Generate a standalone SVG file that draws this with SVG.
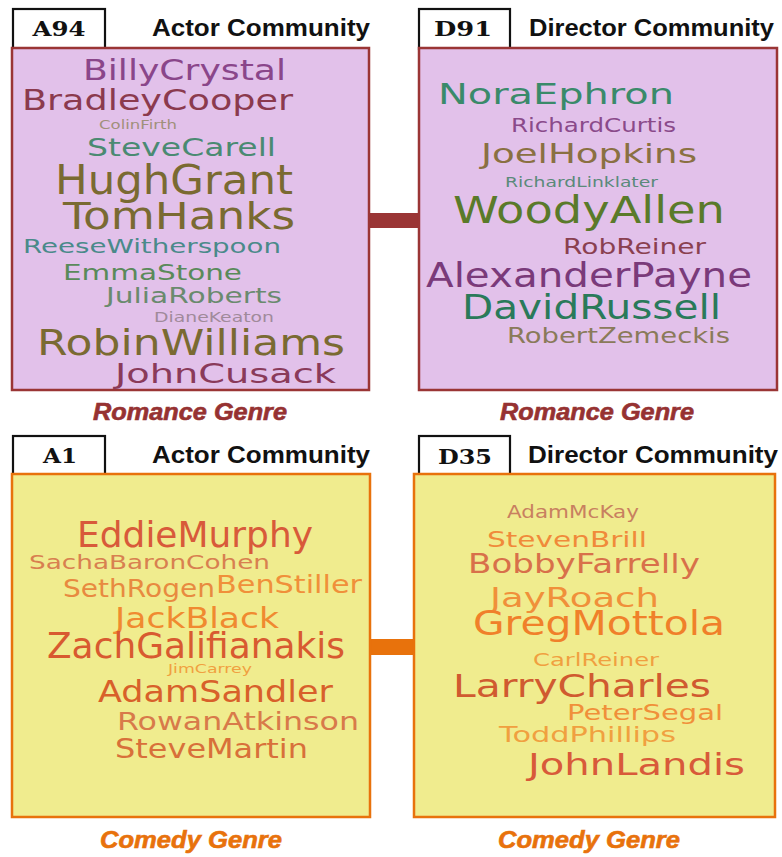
<svg xmlns="http://www.w3.org/2000/svg" width="782" height="857" viewBox="0 0 782 857">
  <style>
    .tab { fill: #ffffff; stroke: #111111; stroke-width: 2.2; }
    .tabtxt { font-family: "DejaVu Serif", "Liberation Serif", serif; font-weight: bold; font-size: 21px; fill: #111111; text-anchor: middle; }
    .head { font-family: "Liberation Sans", Arial, sans-serif; font-weight: bold; font-size: 23px; fill: #111111; }
    .rom { fill: #e2c1ea; stroke: #9a3535; stroke-width: 2.5; }
    .com { fill: #f0ec8e; stroke: #e8720c; stroke-width: 2.5; }
    .w { font-family: "DejaVu Sans", "Liberation Sans", sans-serif; }
    .genre { font-family: "Liberation Sans", Arial, sans-serif; font-weight: bold; font-style: italic; font-size: 23px; text-anchor: middle; stroke-width: 0.6; }
    .rg { fill: #963232; stroke: #963232; }
    .cg { fill: #e8720c; stroke: #e8720c; }
  </style>

  <!-- connectors between paired communities -->
  <g id="connectors">
    <rect x="368" y="213" width="52" height="15" fill="#9a3535"/>
    <rect x="369" y="639" width="46" height="16" fill="#e8720c"/>
  </g>

  <!-- Actor community A94 (romance) -->
  <g id="A94">
    <rect class="tab" x="13" y="9" width="92" height="40"/>
    <text class="tabtxt" x="59" y="36" textLength="53" lengthAdjust="spacingAndGlyphs">A94</text>
    <text class="head" x="152" y="36" textLength="218" lengthAdjust="spacingAndGlyphs">Actor Community</text>
    <rect class="rom" x="12" y="48" width="357" height="342"/>
    <g class="w">
      <text x="83" y="80" font-size="29" fill="#8a468a" textLength="203" lengthAdjust="spacingAndGlyphs">BillyCrystal</text>
      <text x="22" y="110" font-size="29" fill="#8b3a4e" textLength="271" lengthAdjust="spacingAndGlyphs">BradleyCooper</text>
      <text x="99" y="129" font-size="11.5" fill="#a0907a" textLength="78" lengthAdjust="spacingAndGlyphs">ColinFirth</text>
      <text x="87" y="156" font-size="25" fill="#4a8a72" textLength="189" lengthAdjust="spacingAndGlyphs">SteveCarell</text>
      <text x="55" y="194" font-size="40" fill="#7a6a32" textLength="238" lengthAdjust="spacingAndGlyphs">HughGrant</text>
      <text x="63" y="229" font-size="38" fill="#7a6a32" textLength="232" lengthAdjust="spacingAndGlyphs">TomHanks</text>
      <text x="23" y="253" font-size="19" fill="#4a8a8a" textLength="258" lengthAdjust="spacingAndGlyphs">ReeseWitherspoon</text>
      <text x="63" y="280" font-size="21" fill="#5a8a5a" textLength="179" lengthAdjust="spacingAndGlyphs">EmmaStone</text>
      <text x="106" y="303" font-size="21" fill="#6a8a6e" textLength="176" lengthAdjust="spacingAndGlyphs">JuliaRoberts</text>
      <text x="154" y="322" font-size="14" fill="#a08a9a" textLength="120" lengthAdjust="spacingAndGlyphs">DianeKeaton</text>
      <text x="37" y="355" font-size="36" fill="#7a6a32" textLength="308" lengthAdjust="spacingAndGlyphs">RobinWilliams</text>
      <text x="115" y="383" font-size="27" fill="#8a3a5a" textLength="221" lengthAdjust="spacingAndGlyphs">JohnCusack</text>
    </g>
    <text class="genre rg" x="190" y="420" textLength="194" lengthAdjust="spacingAndGlyphs">Romance Genre</text>
  </g>

  <!-- Director community D91 (romance) -->
  <g id="D91">
    <rect class="tab" x="419" y="9" width="91" height="40"/>
    <text class="tabtxt" x="463" y="36" textLength="58" lengthAdjust="spacingAndGlyphs">D91</text>
    <text class="head" x="529" y="36" textLength="245" lengthAdjust="spacingAndGlyphs">Director Community</text>
    <rect class="rom" x="419" y="48" width="358" height="342"/>
    <g class="w">
      <text x="438" y="104" font-size="29" fill="#3a8a6a" textLength="236" lengthAdjust="spacingAndGlyphs">NoraEphron</text>
      <text x="511" y="132" font-size="19" fill="#8a4a8a" textLength="165" lengthAdjust="spacingAndGlyphs">RichardCurtis</text>
      <text x="481" y="163" font-size="27" fill="#8a7042" textLength="216" lengthAdjust="spacingAndGlyphs">JoelHopkins</text>
      <text x="505" y="187" font-size="13.5" fill="#5a8a7a" textLength="153" lengthAdjust="spacingAndGlyphs">RichardLinklater</text>
      <text x="453" y="223" font-size="37" fill="#5a7a2a" textLength="272" lengthAdjust="spacingAndGlyphs">WoodyAllen</text>
      <text x="563" y="254" font-size="22" fill="#8a4050" textLength="143" lengthAdjust="spacingAndGlyphs">RobReiner</text>
      <text x="426" y="287" font-size="33" fill="#7a3a7a" textLength="326" lengthAdjust="spacingAndGlyphs">AlexanderPayne</text>
      <text x="462" y="319" font-size="34" fill="#2a7a5a" textLength="259" lengthAdjust="spacingAndGlyphs">DavidRussell</text>
      <text x="507" y="343" font-size="22" fill="#8a7a5a" textLength="223" lengthAdjust="spacingAndGlyphs">RobertZemeckis</text>
    </g>
    <text class="genre rg" x="597" y="420" textLength="194" lengthAdjust="spacingAndGlyphs">Romance Genre</text>
  </g>

  <!-- Actor community A1 (comedy) -->
  <g id="A1">
    <rect class="tab" x="13" y="436" width="92" height="39"/>
    <text class="tabtxt" x="60" y="463" textLength="34" lengthAdjust="spacingAndGlyphs">A1</text>
    <text class="head" x="152" y="463" textLength="218" lengthAdjust="spacingAndGlyphs">Actor Community</text>
    <rect class="com" x="12" y="474" width="358" height="343"/>
    <g class="w">
      <text x="77" y="547" font-size="35" fill="#d85a3a" textLength="236" lengthAdjust="spacingAndGlyphs">EddieMurphy</text>
      <text x="29" y="569" font-size="20" fill="#d88050" textLength="241" lengthAdjust="spacingAndGlyphs">SachaBaronCohen</text>
      <text x="63" y="597" font-size="24" fill="#e88a40" textLength="152" lengthAdjust="spacingAndGlyphs">SethRogen</text>
      <text x="216" y="593" font-size="24" fill="#f0903a" textLength="146" lengthAdjust="spacingAndGlyphs">BenStiller</text>
      <text x="115" y="628" font-size="28" fill="#f08a30" textLength="164" lengthAdjust="spacingAndGlyphs">JackBlack</text>
      <text x="47" y="658" font-size="35" fill="#d85a30" textLength="298" lengthAdjust="spacingAndGlyphs">ZachGalifianakis</text>
      <text x="168" y="673" font-size="13" fill="#f0a040" textLength="84" lengthAdjust="spacingAndGlyphs">JimCarrey</text>
      <text x="98" y="702" font-size="30" fill="#d8602a" textLength="235" lengthAdjust="spacingAndGlyphs">AdamSandler</text>
      <text x="117" y="730" font-size="24" fill="#d87a4a" textLength="242" lengthAdjust="spacingAndGlyphs">RowanAtkinson</text>
      <text x="115" y="758" font-size="26" fill="#d8703a" textLength="193" lengthAdjust="spacingAndGlyphs">SteveMartin</text>
    </g>
    <text class="genre cg" x="191" y="848" textLength="182" lengthAdjust="spacingAndGlyphs">Comedy Genre</text>
  </g>

  <!-- Director community D35 (comedy) -->
  <g id="D35">
    <rect class="tab" x="419" y="436" width="91" height="39"/>
    <text class="tabtxt" x="465" y="464" textLength="54" lengthAdjust="spacingAndGlyphs">D35</text>
    <text class="head" x="528" y="463" textLength="250" lengthAdjust="spacingAndGlyphs">Director Community</text>
    <rect class="com" x="414" y="474" width="361" height="343"/>
    <g class="w">
      <text x="507" y="518" font-size="18" fill="#c88060" textLength="132" lengthAdjust="spacingAndGlyphs">AdamMcKay</text>
      <text x="487" y="547" font-size="22" fill="#f08a3a" textLength="160" lengthAdjust="spacingAndGlyphs">StevenBrill</text>
      <text x="468" y="573" font-size="26" fill="#d8704a" textLength="232" lengthAdjust="spacingAndGlyphs">BobbyFarrelly</text>
      <text x="490" y="607" font-size="26" fill="#f0903a" textLength="169" lengthAdjust="spacingAndGlyphs">JayRoach</text>
      <text x="473" y="635" font-size="33" fill="#f0802a" textLength="252" lengthAdjust="spacingAndGlyphs">GregMottola</text>
      <text x="533" y="666" font-size="17" fill="#f0a040" textLength="126" lengthAdjust="spacingAndGlyphs">CarlReiner</text>
      <text x="453" y="697" font-size="32" fill="#d05a30" textLength="258" lengthAdjust="spacingAndGlyphs">LarryCharles</text>
      <text x="567" y="720" font-size="22" fill="#f0903a" textLength="156" lengthAdjust="spacingAndGlyphs">PeterSegal</text>
      <text x="499" y="742" font-size="22" fill="#f0a040" textLength="177" lengthAdjust="spacingAndGlyphs">ToddPhillips</text>
      <text x="528" y="775" font-size="30" fill="#d85a3a" textLength="217" lengthAdjust="spacingAndGlyphs">JohnLandis</text>
    </g>
    <text class="genre cg" x="589" y="848" textLength="182" lengthAdjust="spacingAndGlyphs">Comedy Genre</text>
  </g>
</svg>
